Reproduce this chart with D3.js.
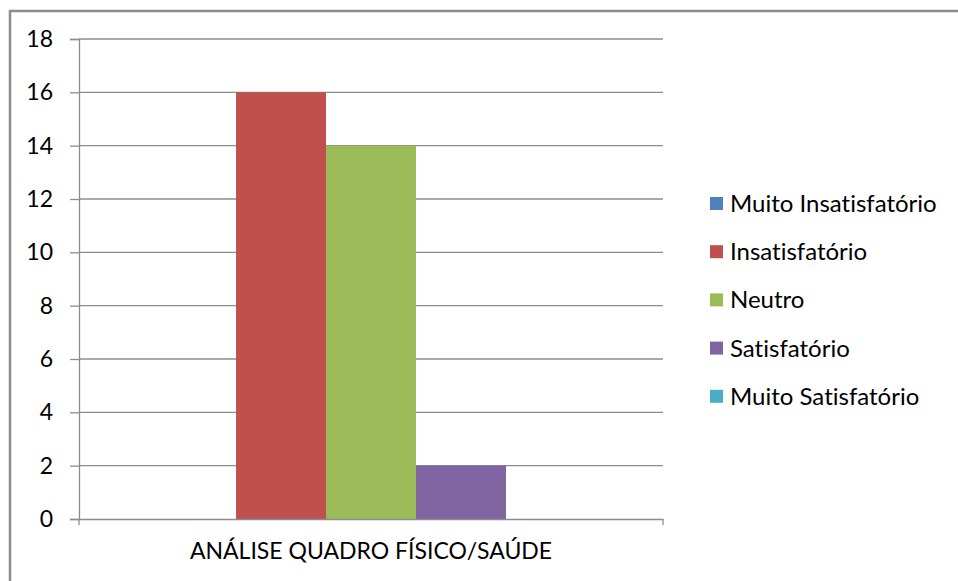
<!DOCTYPE html>
<html>
<head>
<meta charset="utf-8">
<script src="https://cdn.jsdelivr.net/npm/d3@7"></script>
<style>
  body { margin: 0; background: #fff; }
  svg { display: block; }
  text { font-variant-ligatures: none; }
</style>
</head>
<body>
<svg id="chart" width="958" height="581"></svg>
<script>
// data
var categories = ['ANÁLISE QUADRO FÍSICO/SAÚDE'];
var seriesNames = ['Muito Insatisfatório', 'Insatisfatório', 'Neutro', 'Satisfatório', 'Muito Satisfatório'];
var seriesValues = [0, 16, 14, 2, 0];
var seriesColors = ['#4F81BD', '#C0504D', '#9BBB59', '#8064A2', '#4BACC6'];
var yTicks = [0, 2, 4, 6, 8, 10, 12, 14, 16, 18];

function drawChart() {
  var font = 'Lato, "Open Sans", sans-serif';
  var fontSize = '23px';
  var svg = d3.select('#chart');

  // outer chart border (runs off the right and bottom edge)
  svg.append('rect')
     .attr('x', 10).attr('y', 11)
     .attr('width', 1000).attr('height', 700)
     .attr('fill', '#fff')
     .attr('stroke', '#8c8c8c')
     .attr('stroke-width', 2.5);

  var pLeft = 79, pRight = 663, pTop = 39, pBottom = 519;

  var yscale = d3.scaleLinear().domain([0, 18]).range([pBottom, pTop]);
  var xscale = d3.scaleBand().domain(categories).range([pLeft, pRight]);
  // bars take 450 of the 584 px band
  var inner = d3.scaleBand().domain(seriesNames)
      .range([0, xscale.bandwidth()])
      .paddingOuter(0.745).paddingInner(0);

  // gridlines
  svg.append('g').selectAll('line')
     .data(yTicks.filter(d => d > 0))
     .enter().append('line')
     .attr('x1', pLeft).attr('x2', pRight)
     .attr('y1', d => yscale(d)).attr('y2', d => yscale(d))
     .attr('stroke', '#8c8c8c').attr('stroke-width', 1.3);

  // bars
  svg.append('g').selectAll('rect')
     .data(seriesValues)
     .enter().append('rect')
     .attr('x', (d, i) => xscale(categories[0]) + inner(seriesNames[i]))
     .attr('y', d => yscale(d))
     .attr('width', inner.bandwidth())
     .attr('height', d => yscale(0) - yscale(d))
     .attr('fill', (d, i) => seriesColors[i]);

  // y axis
  var yAxis = d3.axisLeft(yscale).tickValues(yTicks).tickSize(9).tickPadding(17);
  var gy = svg.append('g').attr('transform', 'translate(' + pLeft + ',0)').call(yAxis);
  gy.select('.domain').attr('stroke', '#8c8c8c').attr('stroke-width', 1.3);
  gy.selectAll('.tick line').attr('stroke', '#8c8c8c').attr('stroke-width', 1.3);
  gy.selectAll('.tick text')
    .attr('font-family', font).attr('font-size', fontSize).attr('fill', '#000');

  // x axis
  var xAxis = d3.axisBottom(xscale).tickSize(0).tickPadding(24);
  var gx = svg.append('g').attr('transform', 'translate(0,' + pBottom + ')').call(xAxis);
  gx.select('.domain').attr('stroke', '#8c8c8c').attr('stroke-width', 1.3);
  gx.selectAll('.tick text')
    .attr('font-family', font).attr('font-size', fontSize).attr('fill', '#000');
  // category boundary ticks
  gx.selectAll('.edge').data([pLeft, pRight]).enter().append('line')
    .attr('x1', d => d).attr('x2', d => d)
    .attr('y1', 0).attr('y2', 6)
    .attr('stroke', '#8c8c8c').attr('stroke-width', 1.3);

  // legend
  var legend = svg.append('g').selectAll('g')
     .data(seriesNames)
     .enter().append('g')
     .attr('transform', (d, i) => 'translate(710,' + (203.5 + i * 48.2) + ')');
  legend.append('rect')
     .attr('x', 0).attr('y', -6.5)
     .attr('width', 13).attr('height', 13)
     .attr('fill', (d, i) => seriesColors[i]);
  legend.append('text')
     .attr('x', 20).attr('y', 0).attr('dy', '0.35em')
     .attr('font-family', font).attr('font-size', '24px').attr('fill', '#000')
     .text(d => d);
}

drawChart();
</script>
</body>
</html>
